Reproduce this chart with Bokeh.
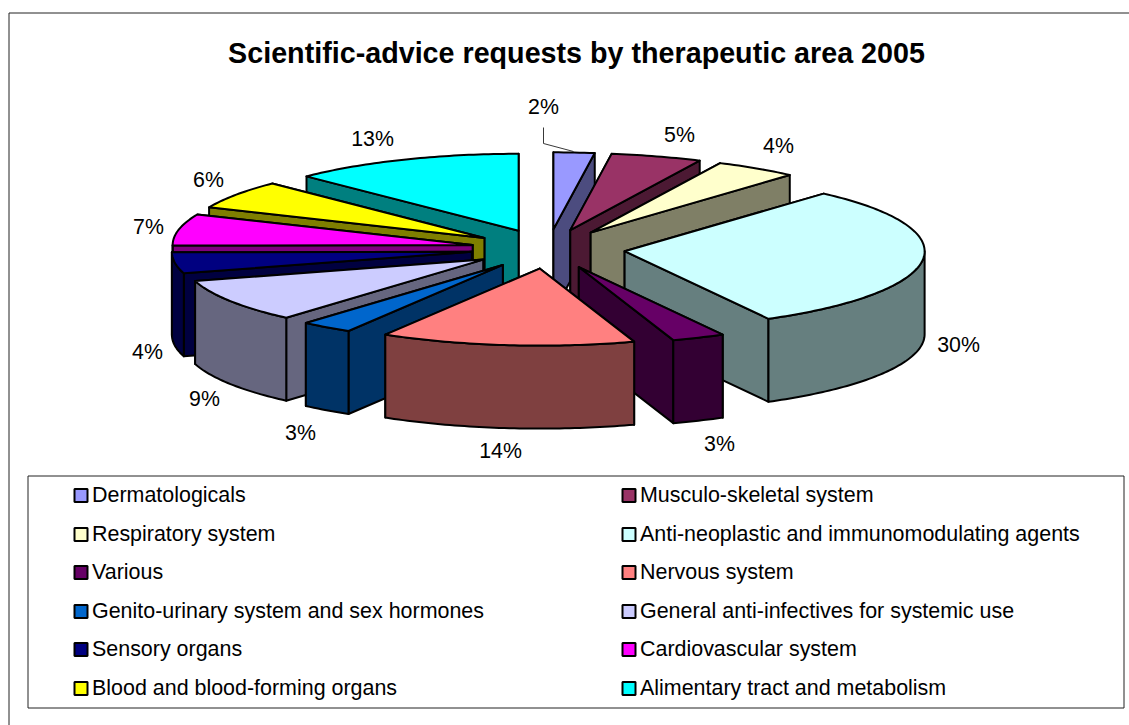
import math
from bokeh.embed import file_html
from bokeh.models import ColumnDataSource, Range1d
from bokeh.plotting import figure
from bokeh.resources import INLINE
from bokeh.core.properties import value

TITLE = "Scientific-advice requests by therapeutic area 2005"
categories = ["Dermatologicals", "Musculo-skeletal system", "Respiratory system",
              "Anti-neoplastic and immunomodulating agents", "Various", "Nervous system",
              "Genito-urinary system and sex hormones", "General anti-infectives for systemic use",
              "Sensory organs", "Cardiovascular system", "Blood and blood-forming organs",
              "Alimentary tract and metabolism"]
shares = [2.2, 4.9, 4.45, 30.49, 2.86, 13.7, 2.8, 9.1, 4.4, 6.6, 6.0, 12.5]
share_labels = ["2%", "5%", "4%", "30%", "3%", "14%", "3%", "9%", "4%", "7%", "6%", "13%"]
colors = ["#9999FF", "#993366", "#FFFFCC", "#CCFFFF", "#660066", "#FF8080",
          "#0066CC", "#CCCCFF", "#000080", "#FF00FF", "#FFFF00", "#00FFFF"]

# layout, in page pixels
W, H = 1129, 725
CX, CY, RX, RY, DEPTH = 547.6, 248.5, 300.0, 77.0, 83.0
EX, EY = 77.0, 19.7
label_x = [543, 679, 778, 958, 719, 500, 300, 204, 147, 148, 208, 372]
label_y = [106.5, 134.5, 145, 344.5, 443, 450.5, 432, 398, 351, 226, 179, 138]
FONT = "Liberation Sans"


def darker(c):
    return "#" + "".join(f"{int(c[i:i+2], 16) // 2:02X}" for i in (1, 3, 5))


p = figure(width=W, height=H, output_backend="svg", toolbar_location=None,
           x_range=Range1d(0, W), y_range=Range1d(H, 0), min_border=0)
p.axis.visible = False
p.grid.visible = False
p.outline_line_color = None
p.background_fill_color = "white"
p.border_fill_color = "white"

# chart frame (its right and bottom sides lie beyond the picture) and legend frame
p.line([8.5, 8.5, W], [H, 12.5, 12.5], line_color="#222222", line_width=1)
p.quad(left=[27.5], right=[1123.5], top=[475.5], bottom=[707.5], fill_color="white",
       line_color="#222222", line_width=1)

# slices: angles clockwise from straight up
edges = [0.0]
for s in shares:
    edges.append(edges[-1] + s)
total = edges[-1]
slices = []
for i, (s, c) in enumerate(zip(shares, colors)):
    a = edges[i] / total * 2 * math.pi
    b = edges[i + 1] / total * 2 * math.pi
    slices.append((math.cos((a + b) / 2), i, a, b, c))
slices.sort(key=lambda t: -t[0])


def point(ox, oy, ang, drop=0.0):
    return ox + RX * math.sin(ang), oy - RY * math.cos(ang) + drop


def arc(ox, oy, a, b, drop=0.0):
    n = max(2, int((b - a) * 60))
    return [point(ox, oy, a + (b - a) * k / n, drop) for k in range(n + 1)]


xs, ys, fills = [], [], []


def add(poly, fill):
    xs.append([q[0] for q in poly])
    ys.append([q[1] for q in poly])
    fills.append(fill)


for _, i, a, b, c in slices:
    mid = (a + b) / 2
    ox = CX + EX * math.sin(mid)
    oy = CY - EY * math.cos(mid)
    side = darker(c)
    apex = (ox, oy)
    apex_low = (ox, oy + DEPTH)

    def radial(ang):
        e = point(ox, oy, ang)
        add([apex, e, (e[0], e[1] + DEPTH), apex_low], side)

    start_vis = math.sin(a) < -1e-9
    end_vis = math.sin(b) > 1e-9
    # hidden walls first, then the ones that face the viewer
    if not start_vis:
        radial(a)
    if not end_vis:
        radial(b)
    if start_vis:
        radial(a)
    if end_vis:
        radial(b)
    lo, hi = max(a, math.pi / 2), min(b, 3 * math.pi / 2)
    if hi > lo:
        add(arc(ox, oy, lo, hi) + arc(ox, oy, lo, hi, DEPTH)[::-1], side)
    add([apex] + arc(ox, oy, a, b), c)

p.patches(xs="xs", ys="ys", fill_color="fills", line_color="black", line_width=2,
          line_join="round",
          source=ColumnDataSource(dict(xs=xs, ys=ys, fills=fills)))

# leader of the first label
p.line([label_x[0], label_x[0], label_x[0] + 30], [127, 143, 151],
       line_color="#222222", line_width=0.9)

p.text(x=label_x, y=label_y, text=share_labels, text_font=value(FONT), text_font_size="21.33px",
       text_color="black", text_align="center", text_baseline="middle")

p.text(x=[576], y=[52.5], text=[TITLE], text_font=value(FONT), text_font_size="28.7px",
       text_font_style="bold", text_color="black", text_align="center", text_baseline="middle")

# legend, two columns filled row by row
col_x = [80.5, 628.5]
row_y = [495, 534, 572, 611, 649, 688]
lx = [col_x[i % 2] for i in range(len(categories))]
ly = [row_y[i // 2] for i in range(len(categories))]
p.scatter(x=lx, y=ly, marker="square", size=13, fill_color=colors, line_color="black", line_width=2)
p.text(x=[v + 11 for v in lx], y=[v - 1 for v in ly], text=categories, text_font=value(FONT),
       text_font_size="21.45px", text_color="black", text_align="left", text_baseline="middle")

open("out.html", "w").write(file_html(p, INLINE))
